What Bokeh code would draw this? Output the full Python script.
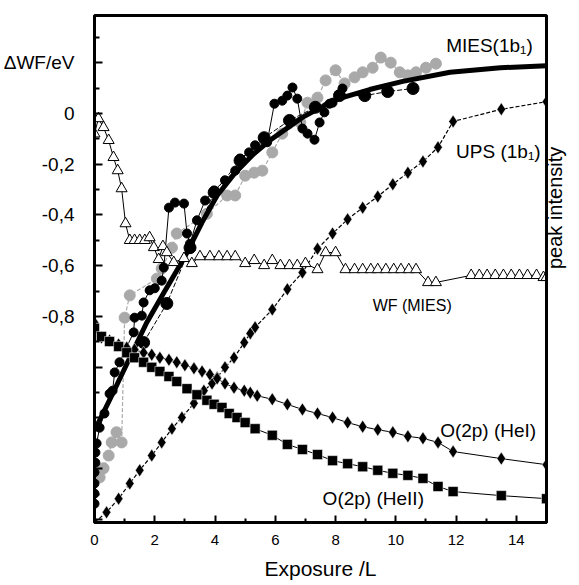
import math
from bokeh.plotting import figure
from bokeh.models import Range1d, LinearAxis, FixedTicker, Label
from bokeh.embed import file_html
from bokeh.resources import INLINE

# ---------------- data ----------------
# MIES (1b1) fit curve (peak intensity, arb. units 0..100)
fit_x = [0.0, 0.57, 1.17, 1.73, 2.3, 2.97, 3.57, 4.07, 4.67, 5.23, 5.8, 6.9, 8.0, 9.13, 10.23, 11.8, 13.47, 15.0]
fit_y = [18.1, 25.0, 32.5, 39.4, 45.3, 52.1, 59.2, 64.5, 69.0, 72.4, 75.3, 79.9, 83.4, 85.4, 87.0, 88.8, 89.7, 90.1]

# MIES (1b1) data, small black dots
mies_a_x = [0.0, 0.0, 0.0, 0.0, 0.03, 0.03, 0.07, 0.17, 0.33, 0.5, 0.6, 0.67, 0.83, 1.3, 1.33, 1.57, 1.63,
            1.83, 2.0, 2.23, 2.3, 2.47, 2.67, 2.97, 3.07, 3.17, 3.4, 3.67, 3.97, 4.33, 4.67, 4.83, 5.13,
            5.33, 5.73, 5.97, 6.23, 6.4, 6.57, 6.73, 6.9, 7.07, 7.3, 7.47, 7.63, 7.8, 7.9, 8.13, 8.23]
mies_a_y = [3.7, 5.7, 7.7, 9.9, 11.8, 13.8, 15.6, 18.7, 21.5, 25.4, 26.0, 29.6, 31.6, 37.5, 40.4, 40.8, 43.4,
            45.8, 46.2, 47.7, 50.3, 62.1, 63.1, 62.9, 57.0, 55.0, 59.6, 63.5, 65.5, 67.5, 69.4, 71.8, 73.0,
            74.4, 75.0, 82.6, 83.2, 84.2, 85.8, 83.6, 77.7, 76.7, 75.5, 78.9, 80.9, 82.6, 82.8, 84.2, 85.6]

# MIES (1b1) data, large black dots
mies_b_x = [1.63, 2.4, 3.17, 3.97, 4.83, 5.63, 6.47, 7.33, 8.13, 8.97, 9.73, 10.57]
mies_b_y = [35.5, 43.2, 54.2, 65.1, 71.4, 75.9, 79.3, 81.9, 84.2, 84.2, 85.0, 85.6]

# MIES (1b1) data, grey dots
mies_g_x = [0.17, 0.3, 0.47, 0.57, 0.73, 0.9, 1.0, 1.17, 2.07, 2.23, 2.57, 2.73, 3.73, 4.4, 4.67, 5.0, 5.3,
            5.57, 5.9, 6.23, 6.83, 7.07, 7.4, 7.67, 8.0, 8.3, 8.63, 8.9, 9.23, 9.5, 9.83, 10.13, 10.4,
            10.67, 11.0, 11.33]
mies_g_y = [8.9, 10.7, 13.2, 15.8, 17.8, 15.8, 40.4, 44.8, 48.1, 50.1, 54.2, 57.0, 60.9, 64.5, 64.5, 68.4, 69.0,
            69.4, 73.0, 76.7, 78.9, 82.8, 83.8, 87.2, 89.2, 86.6, 87.8, 88.8, 89.7, 91.7, 90.7, 88.8, 88.2,
            88.8, 89.7, 90.5]

# UPS (1b1)
ups_x = [0.0, 0.4, 0.8, 1.17, 1.5, 1.9, 2.23, 2.57, 2.9, 3.3, 3.63, 3.9, 4.07, 4.33, 4.63, 4.97, 5.17,
         5.33, 5.9, 6.4, 6.9, 7.4, 7.9, 8.4, 8.9, 9.4, 9.9, 10.4, 10.9, 11.4, 11.9, 13.5, 15.0]
ups_y = [0.0, 2.0, 4.7, 7.7, 10.3, 13.2, 15.8, 18.5, 20.7, 23.5, 26.0, 27.4, 28.6, 30.6, 32.5, 35.5, 37.3,
         38.5, 42.0, 46.0, 49.3, 54.0, 57.0, 59.8, 62.1, 64.3, 66.7, 69.0, 71.2, 74.0, 79.1, 81.5, 83.0]

# O(2p) (HeI)
hei_x = [0.0, 0.23, 0.5, 0.8, 1.07, 1.33, 1.63, 1.9, 2.17, 2.47, 2.73, 3.0, 3.3, 3.57, 3.83, 4.07, 4.33,
         4.63, 4.97, 5.17, 5.4, 5.9, 6.4, 6.9, 7.4, 7.9, 8.4, 8.9, 9.4, 9.9, 10.4, 10.9, 11.4, 11.9, 13.5, 15.0]
hei_y = [39.4, 36.5, 35.9, 35.1, 34.5, 34.1, 33.5, 33.1, 32.5, 32.1, 31.6, 31.0, 30.4, 29.8, 29.2, 28.4, 27.4,
         26.6, 26.0, 25.6, 25.0, 24.3, 23.3, 22.3, 21.5, 20.7, 19.7, 18.9, 18.3, 17.8, 17.0, 16.6, 15.8, 14.0,
         12.6, 11.4]

# O(2p) (HeII)
heii_x = [0.0, 0.23, 0.5, 0.8, 1.07, 1.33, 1.63, 1.9, 2.17, 2.47, 2.73, 3.07, 3.4, 3.73, 3.97, 4.23, 4.47,
          4.73, 5.0, 5.33, 5.9, 6.4, 6.9, 7.4, 7.9, 8.4, 8.9, 9.4, 9.9, 10.4, 10.9, 11.4, 11.9, 13.5, 15.0]
heii_y = [38.3, 36.7, 35.7, 34.7, 33.5, 32.5, 31.6, 30.6, 29.8, 28.8, 27.8, 26.4, 25.2, 24.1, 23.3, 22.7, 21.5,
          20.7, 19.7, 18.5, 17.2, 15.4, 14.4, 13.4, 12.2, 11.6, 11.0, 10.3, 9.7, 9.3, 8.7, 7.1, 6.1, 5.3, 4.7]

# Work function change (MIES), eV
wf_x = [0.0, 0.13, 0.3, 0.47, 0.63, 0.77, 0.9, 1.03, 1.17, 1.33, 1.5, 1.67, 1.83, 1.97, 2.13, 2.27, 2.4,
        2.63, 2.97, 3.23, 3.5, 3.83, 4.13, 4.4, 4.67, 5.0, 5.3, 5.63, 5.9, 6.17, 6.47, 6.73, 7.0, 7.4,
        7.67, 8.0, 8.33, 8.63, 8.9, 9.17, 9.4, 9.67, 9.93, 10.17, 10.43, 10.67, 11.07, 11.33, 12.5,
        12.77, 13.03, 13.3, 13.57, 13.83, 14.1, 14.37, 14.67, 14.9, 15.0]
wf_y = [-0.08, -0.02, -0.055, -0.106, -0.173, -0.225, -0.296, -0.434, -0.5, -0.5, -0.5, -0.5, -0.489,
        -0.528, -0.575, -0.524, -0.548, -0.587, -0.571, -0.591, -0.564, -0.564, -0.564, -0.564, -0.564,
        -0.591, -0.579, -0.599, -0.579, -0.599, -0.599, -0.599, -0.591, -0.615, -0.548, -0.548, -0.615,
        -0.615, -0.615, -0.615, -0.615, -0.615, -0.615, -0.615, -0.615, -0.615, -0.666, -0.666, -0.638,
        -0.638, -0.638, -0.638, -0.638, -0.638, -0.638, -0.638, -0.638, -0.646, -0.646]

x_ticks = [0, 2, 4, 6, 8, 10, 12, 14]
wf_ticks = [-1.6, -1.4, -1.2, -1.0, -0.8, -0.6, -0.4, -0.2, 0.0, 0.2]
wf_tick_labels = {0.2: "\u0394WF/eV", 0.0: "0", -0.2: "-0,2", -0.4: "-0,4", -0.6: "-0,6", -0.8: "-0,8"}

FONT = "Liberation Sans"
GREY = "#a9a9a9"

p = figure(width=579, height=585, output_backend="svg", toolbar_location=None,
           x_range=Range1d(0, 15), y_range=Range1d(0, 100), y_axis_location="right",
           min_border_left=93, min_border_right=32, min_border_top=15, min_border_bottom=63,
           background_fill_color="white", border_fill_color="white")
p.xgrid.visible = False
p.ygrid.visible = False
p.outline_line_color = "black"
p.outline_line_width = 3
p.outline_line_alpha = 1.0
p.extra_y_ranges = {"wf": Range1d(-1.612, 0.386)}

# bottom axis
xa = p.xaxis[0]
xa.ticker = FixedTicker(ticks=x_ticks, minor_ticks=[1, 3, 5, 7, 9, 11, 13, 15])
xa.axis_line_width = 3
xa.major_tick_in = 7
xa.major_tick_out = 0
xa.minor_tick_in = 4
xa.minor_tick_out = 0
xa.major_tick_line_width = 2
xa.minor_tick_line_width = 2
xa.major_label_text_font = FONT
xa.major_label_text_font_size = "15px"
xa.major_label_text_color = "black"
xa.major_label_standoff = 12
xa.axis_label = "Exposure /L"
xa.axis_label_text_font = FONT
xa.axis_label_text_font_style = "normal"
xa.axis_label_text_font_size = "21px"
xa.axis_label_text_color = "black"
xa.axis_label_standoff = 9

# right axis (peak intensity), label reading bottom-to-top
ra = p.yaxis[0]
ra.ticker = FixedTicker(ticks=[], minor_ticks=[])
ra.axis_line_width = 3
ra.major_tick_in = 0
ra.major_tick_out = 0
ra.minor_tick_in = 0
ra.minor_tick_out = 0
ra.major_label_text_font_size = "0px"
ra.major_label_standoff = 0
ra.axis_label = "peak intensity"
ra.axis_label_text_font = FONT
ra.axis_label_text_font_style = "normal"
ra.axis_label_text_font_size = "20px"
ra.axis_label_text_color = "black"
ra.axis_label_standoff = 8
ra.axis_label_orientation = math.pi / 2

# left axis (work function)
la = LinearAxis(y_range_name="wf")
la.ticker = FixedTicker(ticks=wf_ticks,
                        minor_ticks=[-1.5, -1.3, -1.1, -0.9, -0.7, -0.5, -0.3, -0.1, 0.1, 0.3])
la.major_label_overrides = {t: wf_tick_labels.get(round(t, 1), "") for t in wf_ticks}
la.axis_line_width = 3
la.major_tick_in = 8
la.major_tick_out = 0
la.minor_tick_in = 5
la.minor_tick_out = 0
la.major_tick_line_width = 2
la.minor_tick_line_width = 2
la.major_label_text_font = FONT
la.major_label_text_font_size = "19px"
la.major_label_text_color = "black"
la.major_label_standoff = 20
p.add_layout(la, "left")

# ---------------- series ----------------
p.line(mies_g_x, mies_g_y, line_color=GREY, line_width=1.2, line_dash="4 2")
p.scatter(mies_g_x, mies_g_y, marker="circle", size=11, fill_color=GREY, line_color=GREY)

p.line(mies_a_x, mies_a_y, line_color="black", line_width=1)
p.scatter(mies_a_x, mies_a_y, marker="circle", size=9, fill_color="black", line_color="black")

p.line(mies_b_x, mies_b_y, line_color="black", line_width=1, line_dash="5 2")
p.scatter(mies_b_x, mies_b_y, marker="circle", size=12, fill_color="black", line_color="black")

p.line(fit_x, fit_y, line_color="black", line_width=5)

p.line(ups_x, ups_y, line_color="black", line_width=1.2, line_dash="4 2")
p.scatter(ups_x, ups_y, marker="diamond", size=13, fill_color="black", line_color="white", line_width=0.5)

p.line(hei_x, hei_y, line_color="black", line_width=1)
p.scatter(hei_x, hei_y, marker="diamond", size=13, fill_color="black", line_color="white", line_width=0.5)

p.line(heii_x, heii_y, line_color="black", line_width=1)
p.scatter(heii_x, heii_y, marker="square", size=10, fill_color="black", line_color="white", line_width=0.5)

p.line(wf_x, wf_y, y_range_name="wf", line_color="black", line_width=1)
p.scatter(wf_x, wf_y, y_range_name="wf", marker="triangle", size=11, fill_color="white",
          line_color="black", line_width=1)

# ---------------- labels ----------------
def lab(x, y, text, size="19px"):
    p.add_layout(Label(x=x, y=y, text=text, text_font=FONT, text_font_size=size,
                       text_baseline="middle", text_align="left", text_color="black"))

lab(11.67, 94.1, "MIES(1b\u2081)")
lab(12.0, 73.2, "UPS (1b\u2081)")
lab(9.23, 42.8, "WF (MIES)", size="16px")
lab(11.47, 18.1, "O(2p) (HeI)")
lab(7.57, 4.7, "O(2p) (HeII)")

open("out.html", "w").write(file_html(p, INLINE))
